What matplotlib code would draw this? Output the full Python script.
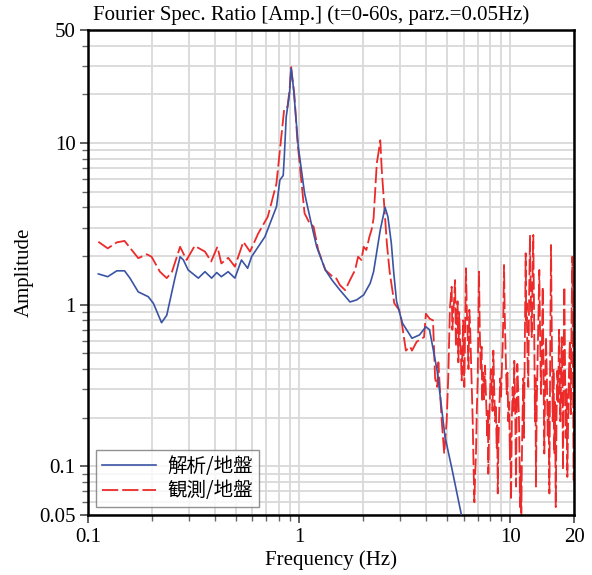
import matplotlib
matplotlib.use("Agg")
import matplotlib.pyplot as plt
from matplotlib.ticker import FixedLocator, NullFormatter, LogLocator

# ---- data ----
calc_freq = [0.112, 0.124, 0.137, 0.149, 0.158, 0.173, 0.193, 0.204, 0.223, 0.236,
             0.258, 0.273, 0.283, 0.298, 0.333, 0.358, 0.385, 0.407, 0.428, 0.461,
             0.496, 0.533, 0.570, 0.595, 0.688, 0.781, 0.810, 0.84, 0.85, 0.868,
             0.90, 0.916, 0.94, 0.99, 1.06, 1.14, 1.21, 1.33, 1.43, 1.56,
             1.74, 1.87, 2.02, 2.17, 2.25, 2.42, 2.55, 2.63, 2.73, 2.80,
             2.89, 3.08, 3.42, 3.71, 3.98, 4.14, 4.5, 4.9, 5.3, 5.9]
calc_amp = [1.55, 1.49, 1.62, 1.62, 1.46, 1.20, 1.12, 1.02, 0.774, 0.86,
            1.46, 1.98, 1.89, 1.64, 1.46, 1.60, 1.46, 1.58, 1.49, 1.60,
            1.46, 1.89, 1.68, 1.98, 2.63, 4.04, 5.9, 6.3, 8.2, 14.5,
            20.3, 29.0, 21.8, 9.5, 4.9, 3.19, 2.28, 1.64, 1.42, 1.23,
            1.04, 1.07, 1.15, 1.36, 1.60, 2.9, 4.0, 3.5, 2.4, 1.6,
            1.05, 0.77, 0.62, 0.65, 0.73, 0.70, 0.39, 0.153, 0.095, 0.048]

obs_freq = [0.112, 0.124, 0.137, 0.149, 0.173, 0.19, 0.20, 0.219, 0.232, 0.236,
            0.25, 0.273, 0.293, 0.32, 0.358, 0.383, 0.41, 0.428, 0.461, 0.496,
            0.544, 0.585, 0.64, 0.71, 0.78, 0.85, 0.88, 0.90, 0.916, 0.95,
            0.98, 1.06, 1.12, 1.17, 1.23, 1.33, 1.44, 1.50, 1.56, 1.65,
            1.74, 1.84, 1.90, 1.97, 2.02, 2.08, 2.15, 2.20, 2.25, 2.33,
            2.37, 2.42, 2.46, 2.55, 2.60, 2.68, 2.82, 2.97, 3.03, 3.13,
            3.20, 3.35, 3.42, 3.60, 3.90, 3.98, 4.14, 4.30, 4.40, 4.50,
            4.56, 4.73, 4.86, 4.99,
            5.08, 5.17, 5.27, 5.31, 5.36, 5.42, 5.47, 5.52, 5.57, 5.62,
            5.67, 5.72, 5.77, 5.83, 5.88, 5.93, 5.98, 6.01, 6.05, 6.10,
            6.16, 6.22, 6.28, 6.33, 6.39, 6.45, 6.51, 6.57, 6.63, 6.69,
            6.75, 6.81, 6.87, 6.93, 7.00, 7.05, 7.10, 7.16, 7.23, 7.30,
            7.36, 7.43, 7.50, 7.58, 7.66, 7.72, 7.77, 7.82, 7.86, 7.94,
            8.01, 8.08, 8.16, 8.23, 8.30, 8.38, 8.46, 8.53, 8.61, 8.66,
            8.71, 8.78, 8.86, 8.95, 9.03, 9.11, 9.19, 9.26, 9.33, 9.40,
            9.46, 9.53, 9.60, 9.68, 9.77, 9.86, 9.95, 10.01, 10.07, 10.16,
            10.25, 10.34, 10.43, 10.53, 10.63, 10.70, 10.78, 10.88, 10.98, 11.04,
            11.10, 11.18, 11.26, 11.34, 11.43, 11.51, 11.59, 11.70, 11.81, 11.87,
            11.94, 12.04, 12.15, 12.26, 12.38, 12.50, 12.61, 12.72, 12.83, 12.95,
            13.07, 13.14, 13.21, 13.33, 13.46, 13.58, 13.70, 13.83, 13.96, 14.09,
            14.22, 14.35, 14.47, 14.60, 14.74, 14.88, 15.02, 15.15, 15.29, 15.43,
            15.57, 15.71, 15.86, 16.00, 16.14, 16.26, 16.39, 16.53, 16.68, 16.83,
            16.99, 17.11, 17.23, 17.36, 17.50, 17.62, 17.74, 17.87, 18.00, 18.13,
            18.27, 18.43, 18.60, 18.77, 18.94, 19.12, 19.30, 19.47, 19.64, 19.79,
            19.94, 20.0]
obs_amp = [2.45, 2.23, 2.43, 2.48, 1.94, 2.05, 1.98, 1.60, 1.49, 1.46,
           1.60, 2.28, 1.89, 2.31, 2.13, 1.85, 2.28, 1.80, 1.95, 1.72,
           2.45, 2.13, 2.76, 3.5, 5.6, 16.4, 16.7, 21.2, 29.5, 19.4,
           10.4, 3.68, 3.19, 3.04, 2.18, 1.64, 1.49, 1.45, 1.32, 1.23,
           1.42, 1.64, 1.98, 1.89, 2.28, 2.18, 2.63, 2.9, 3.42, 7.5,
           8.6, 10.4, 6.8, 3.5, 2.4, 1.6, 1.02, 0.93, 0.84, 0.63,
           0.52, 0.55, 0.52, 0.59, 0.63, 0.88, 0.82, 0.80, 0.35, 0.31,
           0.44, 0.19, 0.12, 0.19,
           0.36, 0.95, 1.29, 0.70, 0.89, 1.10, 1.42, 0.55, 0.80, 1.05,
           0.44, 0.90, 0.63, 0.48, 0.34, 0.55, 0.80, 0.45, 0.31, 0.70,
           1.68, 0.90, 0.63, 0.40, 0.93, 0.70, 0.45, 0.30, 0.19, 0.10,
           0.06, 0.09, 0.12, 0.22, 0.34, 0.80, 1.60, 0.70, 0.39, 0.55,
           0.25, 0.38, 0.26, 0.42, 0.28, 0.20, 0.15, 0.22, 0.09, 0.20,
           0.28, 0.40, 0.30, 0.22, 0.52, 0.30, 0.19, 0.24, 0.13, 0.18,
           0.068, 0.14, 0.23, 0.35, 0.27, 0.40, 0.55, 0.90, 1.76, 0.85,
           0.60, 0.40, 0.28, 0.38, 0.19, 0.25, 0.11, 0.16, 0.062, 0.20,
           0.31, 0.22, 0.45, 0.25, 0.075, 0.20, 0.43, 0.30, 0.19, 0.12,
           0.056, 0.10, 0.047, 0.12, 0.23, 0.35, 0.15, 0.60, 2.08, 0.80,
           1.02, 0.50, 0.31, 1.10, 2.7, 1.00, 0.63, 1.40, 2.7, 0.80,
           0.19, 0.35, 0.075, 0.25, 0.50, 0.90, 1.64, 0.60, 0.28, 0.55,
           1.29, 0.40, 0.12, 0.30, 0.63, 0.35, 0.15, 0.25, 0.068, 0.50,
           2.34, 0.60, 0.19, 0.40, 0.12, 0.25, 0.056, 0.20, 0.39, 0.25,
           0.70, 0.40, 0.19, 0.35, 0.63, 0.30, 0.095, 0.50, 1.29, 0.45,
           0.15, 0.30, 0.086, 0.20, 0.39, 0.60, 0.21, 0.80, 1.98, 0.30,
           0.082, 0.27]

calc_label = "解析/地盤"
obs_label = "観測/地盤"
title_text = "Fourier Spec. Ratio [Amp.] (t=0-60s, parz.=0.05Hz)"
x_ticks = [0.1, 1, 10, 20]
x_ticklabels = ["0.1", "1", "10", "20"]
y_ticks = [0.05, 0.1, 1, 10, 50]
y_ticklabels = ["0.05", "0.1", "1", "10", "50"]

# ---- figure ----
serif = ["Liberation Serif", "DejaVu Serif"]
cjk = ["Noto Sans CJK JP", "DejaVu Sans"]
FS = 15

fig = plt.figure(figsize=(5.92, 5.75), dpi=100)
ax = fig.add_axes([0.1486, 0.1043, 0.8210, 0.8435])
ax.set_xscale("log")
ax.set_yscale("log")
ax.set_xlim(0.1, 20)
ax.set_ylim(0.05, 50)

ax.plot(calc_freq, calc_amp, color="#3a54a4", lw=1.2, label=calc_label, zorder=3)
ax.plot(obs_freq, obs_amp, color="#ec2a2a", lw=1.3, dashes=(9, 2.2),
        label=obs_label, zorder=2)

ax.xaxis.set_major_locator(FixedLocator(x_ticks))
ax.yaxis.set_major_locator(FixedLocator(y_ticks))
ax.xaxis.set_minor_locator(LogLocator(base=10, subs=range(2, 10)))
ax.yaxis.set_minor_locator(LogLocator(base=10, subs=range(2, 10)))
ax.xaxis.set_minor_formatter(NullFormatter())
ax.yaxis.set_minor_formatter(NullFormatter())
ax.set_xticklabels(x_ticklabels, fontfamily=serif, fontsize=FS)
ax.set_yticklabels(y_ticklabels, fontfamily=serif, fontsize=FS)

ax.grid(True, which="both", color="#d9d9d9", lw=1.3, zorder=0)
ax.set_axisbelow(True)
ax.tick_params(which="major", direction="out", length=6, width=1.2, color="#444444", pad=3)
ax.tick_params(which="minor", direction="out", length=4, width=1.0, color="#666666")
for s in ax.spines.values():
    s.set_linewidth(1.8)
    s.set_color("black")

ax.set_xlabel("Frequency (Hz)", fontfamily=serif, fontsize=FS, labelpad=3)
ax.set_ylabel("Amplitude", fontfamily=serif, fontsize=FS, labelpad=4)
fig.text(0.157, 0.99, title_text, fontfamily=serif, fontsize=FS, ha="left", va="top")

leg = ax.legend(loc="lower left", prop={"family": cjk, "size": 14},
                frameon=True, fancybox=False, edgecolor="#777777",
                handlelength=2.8, borderaxespad=0.4, labelspacing=0.2,
                borderpad=0.3, handletextpad=0.6)
leg.get_frame().set_linewidth(1.0)

fig.savefig("out.png", dpi=100)
